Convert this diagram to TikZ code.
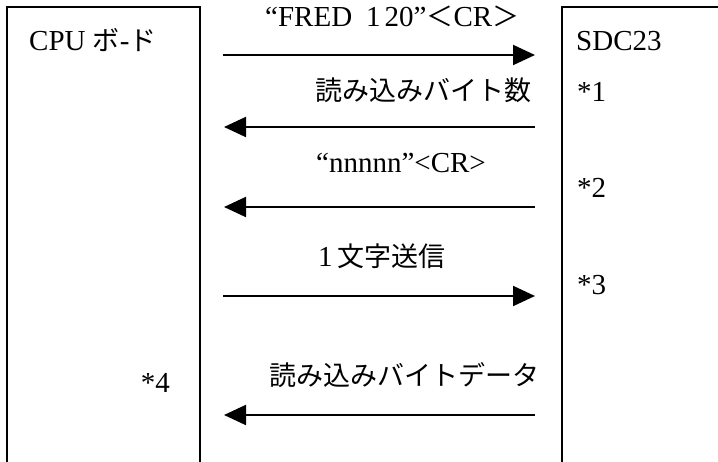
\documentclass[tikz,border=0pt]{standalone}
\usepackage{fontspec}
\setmainfont{Liberation Serif}
\newfontfamily\jp{Noto Sans CJK JP}
\newcommand\jtext[1]{{\jp\fontsize{27}{32}\selectfont #1}}
\usetikzlibrary{arrows.meta}
\tikzset{
  frame/.style={line width=1.5pt},
  msg/.style={line width=2pt,-{Triangle[length=22pt,width=20pt]}},
  lbl/.style={inner sep=0pt,font=\fontsize{29}{34}\selectfont},
}
\begin{document}
\begin{tikzpicture}[x=1pt,y=-1pt]
\useasboundingbox (0,0) rectangle (718,462);
% boxes
\coordinate (lbl1) at (7,462); \coordinate (ltl) at (7,7);
\coordinate (ltr) at (200,7); \coordinate (lbr) at (200,462);
\draw[frame] (lbl1) -- (ltl) -- (ltr) -- (lbr);
\coordinate (rtr) at (718,7); \coordinate (rtl) at (562,7); \coordinate (rbl) at (562,462);
\draw[frame] (rtr) -- (rtl) -- (rbl);
% box titles
\node[lbl,anchor=base west] (cpu) at (29,51) {CPU \jtext{ボ}-\jtext{ド}};
\node[lbl,anchor=base west] (sdc) at (576,51) {SDC23};
% arrows
\coordinate (a1s) at (223,55); \coordinate (a1e) at (535,55);
\coordinate (a2s) at (535,127); \coordinate (a2e) at (224,127);
\coordinate (a3s) at (535,207); \coordinate (a3e) at (224,207);
\coordinate (a4s) at (223,296); \coordinate (a4e) at (535,296);
\coordinate (a5s) at (535,415); \coordinate (a5e) at (224,415);
\draw[msg] (a1s) -- (a1e);
\draw[msg] (a2s) -- (a2e);
\draw[msg] (a3s) -- (a3e);
\draw[msg] (a4s) -- (a4e);
\draw[msg] (a5s) -- (a5e);
% labels
\node[lbl,anchor=base west] (t1) at (265,27) {“FRED\hspace{14pt}1\hspace{4pt}20”\jtext{＜}CR\jtext{＞}};
\node[lbl,anchor=base east] (t2) at (532,101) {\jtext{読み込みバイト数}};
\node[lbl,anchor=base] (t3) at (401,173) {“nnnnn”<CR>};
\node[lbl,anchor=base west] (t4) at (318,267) {1\hspace{5pt}\jtext{文字送信}};
\node[lbl,anchor=base west] (t5) at (269,386) {\jtext{読み込みバイトデータ}};
% notes
\node[lbl,anchor=base west] (n1) at (577,102) {*1};
\node[lbl,anchor=base west] (n2) at (577,198) {*2};
\node[lbl,anchor=base west] (n3) at (577,295) {*3};
\node[lbl,anchor=base east] (n4) at (170,392) {*4};
\end{tikzpicture}
\end{document}
